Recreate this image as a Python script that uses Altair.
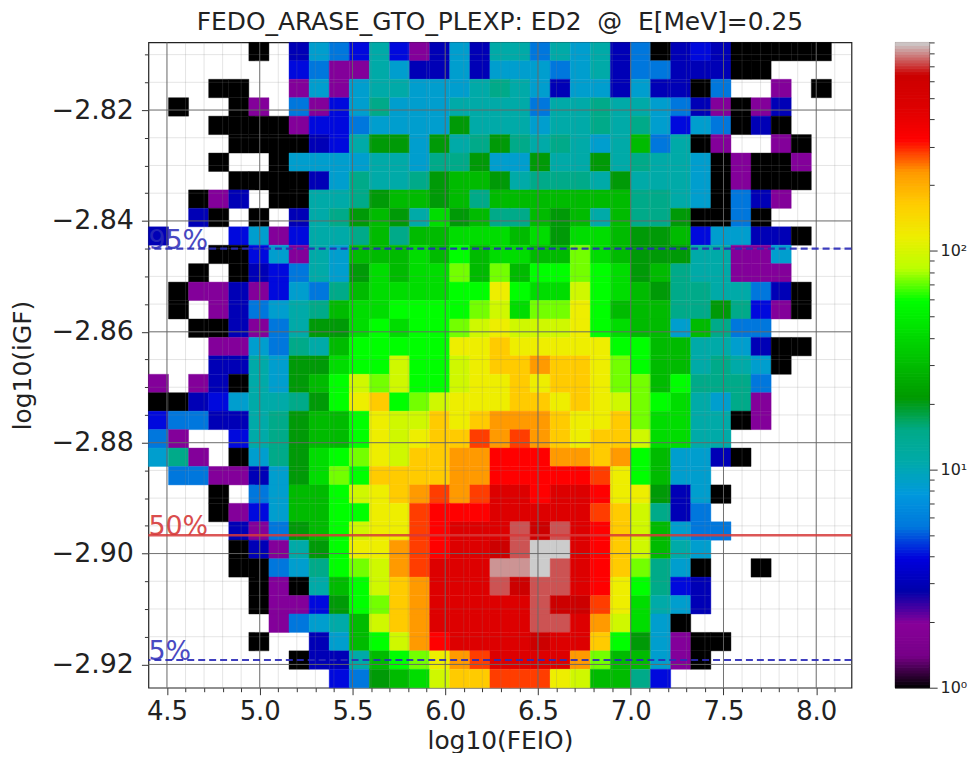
import altair as alt
import pandas as pd

LEVEL_COUNTS = {"0": 1, "p": 2, "b": 3, "B": 4, "c": 5.5, "C": 8.5, "t": 11, "T": 15, "g": 21,
                "G": 30, "h": 42, "l": 59, "L": 73, "y": 95, "Y": 117, "o": 165, "O": 230,
                "R": 283, "r": 325, "d": 455, "D": 640, "k": 735, "K": 820, "s": 900}

# 35 rows from top to bottom, columns 0-16
ROWS_LEFT = [
    ".....0.bCcBtBpbCb", ".......BcpptCbbCb", "...00..pCpCttCCCt", ".0..0p.cpBCTCCCtt",
    "...0000pBBcCCCCgt", "....0000bBtggCgtT", "...0..0CCCCttCTTg", "....0000bCTttTgGG",
    "..0pb.00ttTgGGgGT", "..b0.0.btTgGgthgG", "b...BCpBttTGTGGhh", "...00BCptCGGGhGlG",
    "..0.0bBctCghGhhLG", ".0ppbpBCcTGhhhhll", ".0.pbcCtTGhhllllL", "..00bpctgghlhllLy",
    "...ppCcTtGlllllYY", "...bbtCgghllyllyY", "p.pb0tCgGlyLyllyY", "00bBCttTglYolLyYY",
    "BccbbtTgGGlYyyoYo", "cp..BtTgGGlYyYooR", "CTp.0CTghlLYyooOO", ".ccppbCghLlooooOO",
    "...0.cCGGlyYoOROR", "...0pBCGGllYYRrrr", "....bpcgGlyYYRrdd", "....0bptglYYORrdd",
    "....00cCTlLyORddd", ".....0p0tGlyoOddd", ".....0ppBglLoOddd", "......pcCtGyoOddd",
    ".....0..bCGlyOrdd", ".......0bbtGlLYOR", ".........BcgGhyoo",
]
# Same rows, columns 17-34
ROWS_RIGHT = [
    "ttctCtbc0bBb00000.", "CCCcCtbccbbb00....", "TtCbCCbCbb0c..p.0.", "ttcttTttCcbp0pb...",
    "ttCttTtTCBCc0b0...", "gTtTtCtGct0p..p0..", "CCgttgtTttC0p00p..", "gtTTTtgtttC0p000..",
    "GGGGGGGTTtC0cbp...", "TTGgGtGTTg00c0....", "hGhghhGggGBCCbb0..", "hhGGLhGgggttppC...",
    "LGllLlhgGTttppp...", "YlhhylhGgTTttcb0..", "yhLLYlGGGTTgTBp0..", "YyyyYlhGGCGTcc....",
    "oYYYYYllGGttCb00..", "ooOooYLlGGtTtC0...", "YoYooYLLGlTTTc....", "YooYoYyLlhtCTp....",
    "OOOoYYoLhhtt0p....", "OROoYooyhhtt......", "rrrOOoOlGCCb0.....", "rrrrrRYlGCC.......",
    "ddrddrYYgbC0......", "dddddRoyTbc.......", "dkDkdroyGCcc......", "DkssdroyGtC.......",
    "KKskdroLTC0..0....", "kDkkdrYlTBb.......", "ddkDDRYhtCb.......", "ddkkdOyhC0........",
    "ddDddolgCp00......", "ddddOLGGCp0.......", "RRRYyGGTB.........",
]

X_MIN, X_MAX = 4.4, 8.19
Y_TOP, Y_BOTTOM = -2.8078, -2.9242
X_TICKS = [4.5, 5.0, 5.5, 6.0, 6.5, 7.0, 7.5, 8.0]
Y_TICKS = [-2.82, -2.84, -2.86, -2.88, -2.90, -2.92]
X_MINOR = [4.5, 4.6, 4.7, 4.8, 4.9, 5.0, 5.1, 5.2, 5.3, 5.4, 5.5, 5.6, 5.7, 5.8, 5.9, 6.0, 6.1, 6.2,
           6.3, 6.4, 6.5, 6.6, 6.7, 6.8, 6.9, 7.0, 7.1, 7.2, 7.3, 7.4, 7.5, 7.6, 7.7, 7.8, 7.9, 8.0, 8.1]
Y_MINOR = [-2.81, -2.815, -2.82, -2.825, -2.83, -2.835, -2.84, -2.845, -2.85, -2.855, -2.86, -2.865,
           -2.87, -2.875, -2.88, -2.885, -2.89, -2.895, -2.90, -2.905, -2.91, -2.915, -2.92]
PERCENTILES = [("95%", -2.845), ("50%", -2.8967), ("5%", -2.9192)]

# nipy_spectral colour stops and the fractions of the log colour axis
CMAP_POS = [0, .05, .1, .15, .2, .25, .3, .35, .4, .45, .5, .55, .6, .65, .7, .75, .8, .85, .9, .95, 1]
CMAP_HEX = ["#000000", "#770088", "#880099", "#0000aa", "#0000dd", "#0077dd", "#0099dd", "#00aaaa",
            "#00aa88", "#009900", "#00bb00", "#00dd00", "#00ff00", "#bbff00", "#eeee00", "#ffcc00",
            "#ff9900", "#ff0000", "#dd0000", "#cc0000", "#cccccc"]
V_MAX = 900
CB_TICKS = [1, 2, 3, 4, 5, 6, 7, 8, 9, 10, 20, 30, 40, 50, 60, 70, 80, 90, 100, 200, 300, 400, 500, 600, 700, 800, 900]

FONT = "DejaVu Sans"
n_rows, n_cols = len(ROWS_LEFT), len(ROWS_LEFT[0]) + len(ROWS_RIGHT[0])
dx = (X_MAX - X_MIN) / n_cols
dy = (Y_TOP - Y_BOTTOM) / n_rows
records = []
for r, (a, b) in enumerate(zip(ROWS_LEFT, ROWS_RIGHT)):
    for c, ch in enumerate(a + b):
        if ch != ".":
            records.append({"x0": X_MIN + c * dx, "x1": X_MIN + (c + 1) * dx,
                            "y0": Y_TOP - r * dy, "y1": Y_TOP - (r + 1) * dy,
                            "count": LEVEL_COUNTS[ch]})
cells = pd.DataFrame(records)

color_scale = alt.Scale(type="log", domain=[V_MAX ** p for p in CMAP_POS], range=CMAP_HEX,
                        interpolate="rgb", clamp=True)
x_scale = alt.Scale(domain=[X_MIN, X_MAX], nice=False, zero=False)
y_scale = alt.Scale(domain=[Y_BOTTOM, Y_TOP], nice=False, zero=False)

x_axis = alt.Axis(values=X_MINOR, format=".1f", title="log10(FEIO)", grid=False,
                  labelExpr="abs(datum.value*2-round(datum.value*2))<1e-6 ? datum.label : ''",
                  tickSize={"condition": {"test": "abs(datum.value*2-round(datum.value*2))<1e-6", "value": 7}, "value": 4},
                  labelFontSize=26, titleFontSize=25, titleFontWeight="normal", labelPadding=4,
                  labelOverlap=False, domain=False, tickColor="#333", labelColor="#222", titleColor="#222",
                  titlePadding=4)
y_axis = alt.Axis(values=Y_MINOR, format=".2f", title="log10(iGF)", grid=False,
                  labelExpr="abs(datum.value*50-round(datum.value*50))<1e-6 ? datum.label : ''",
                  tickSize={"condition": {"test": "abs(datum.value*50-round(datum.value*50))<1e-6", "value": 7}, "value": 4},
                  labelFontSize=27, titleFontSize=25, titleFontWeight="normal", labelPadding=8,
                  labelOverlap=False, domain=False, tickColor="#333", labelColor="#222", titleColor="#222",
                  titlePadding=16)

heat = alt.Chart(cells).mark_rect(strokeWidth=0.4).encode(
    x=alt.X("x0:Q", scale=x_scale, axis=x_axis),
    x2="x1:Q",
    y=alt.Y("y0:Q", scale=y_scale, axis=y_axis),
    y2="y1:Q",
    color=alt.Color("count:Q", scale=color_scale, legend=None),
    stroke=alt.Color("count:Q", scale=color_scale, legend=None),
)

minor_v = alt.Chart(pd.DataFrame({"v": X_MINOR})).mark_rule(color="#888888", opacity=0.22, strokeWidth=1).encode(
    x=alt.X("v:Q", scale=x_scale, axis=x_axis))
minor_h = alt.Chart(pd.DataFrame({"v": Y_MINOR})).mark_rule(color="#888888", opacity=0.22, strokeWidth=1).encode(
    y=alt.Y("v:Q", scale=y_scale, axis=y_axis))
major_v = alt.Chart(pd.DataFrame({"v": X_TICKS})).mark_rule(color="#666666", opacity=0.9, strokeWidth=1).encode(
    x=alt.X("v:Q", scale=x_scale, axis=x_axis))
major_h = alt.Chart(pd.DataFrame({"v": Y_TICKS})).mark_rule(color="#666666", opacity=0.9, strokeWidth=1).encode(
    y=alt.Y("v:Q", scale=y_scale, axis=y_axis))

blue, red = "#2a2ab8", "#d63a3a"
pct = pd.DataFrame([{"label": l, "v": v, "xpos": X_MIN} for l, v in PERCENTILES])
rule_dash = alt.Chart(pct[pct.label != "50%"]).mark_rule(color=blue, strokeWidth=2.2, strokeDash=[7, 4], opacity=0.9).encode(
    y=alt.Y("v:Q", scale=y_scale, axis=y_axis))
rule_solid = alt.Chart(pct[pct.label == "50%"]).mark_rule(color=red, strokeWidth=2.4, opacity=0.85).encode(
    y=alt.Y("v:Q", scale=y_scale, axis=y_axis))
txt_blue = alt.Chart(pct[pct.label != "50%"]).mark_text(align="left", baseline="alphabetic", fontSize=27, color=blue, font=FONT, opacity=0.85).encode(
    x=alt.X("xpos:Q", scale=x_scale, axis=x_axis), y=alt.Y("v:Q", scale=y_scale, axis=y_axis), text="label:N")
txt_red = alt.Chart(pct[pct.label == "50%"]).mark_text(align="left", baseline="alphabetic", fontSize=27, color=red, font=FONT, opacity=0.9).encode(
    x=alt.X("xpos:Q", scale=x_scale, axis=x_axis), y=alt.Y("v:Q", scale=y_scale, axis=y_axis), text="label:N")

main = alt.layer(heat, minor_v, minor_h, major_v, major_h, rule_dash, rule_solid, txt_blue, txt_red).properties(
    width=706, height=648,
    title=alt.TitleParams("FEDO_ARASE_GTO_PLEXP: ED2\u00a0\u00a0@\u00a0\u00a0E[MeV]=0.25", fontSize=25, fontWeight="normal",
                          font=FONT, anchor="middle", color="#222", offset=6),
)

# Colour bar: thin bands along the log axis
n_bands = 220
band_edges = [V_MAX ** (i / n_bands) for i in range(n_bands + 1)]
bands = pd.DataFrame({"v0": band_edges[:-1], "v1": band_edges[1:],
                      "mid": [V_MAX ** ((i + .5) / n_bands) for i in range(n_bands)]})
major_test = "datum.value==1||datum.value==10||datum.value==100"
colorbar = alt.Chart(bands).mark_rect(strokeWidth=1).encode(
    x=alt.value(0), x2=alt.value(34),
    y=alt.Y("v0:Q", scale=alt.Scale(type="log", domain=[1, V_MAX], nice=False),
            axis=alt.Axis(orient="right", values=CB_TICKS, title=None, grid=False, domain=False,
                          labelExpr="datum.value==1?'10⁰':datum.value==10?'10¹':datum.value==100?'10²':''",
                          tickSize={"condition": {"test": major_test, "value": 8}, "value": 5},
                          labelFontSize=16, labelPadding=3, labelOverlap=False, labelColor="#222", tickColor="#333")),
    y2="v1:Q",
    color=alt.Color("mid:Q", scale=color_scale, legend=None),
    stroke=alt.Color("mid:Q", scale=color_scale, legend=None),
).properties(width=34, height=648)

chart = alt.hconcat(main, colorbar, spacing=40).resolve_scale(color="shared").properties(
    padding={"left": 1, "top": -1, "right": 0, "bottom": -3}
).configure_view(stroke="#222", strokeWidth=1.2).configure_axis(labelFont=FONT, titleFont=FONT)

chart.save("out.html", embed_options={"renderer": "svg", "actions": False})
